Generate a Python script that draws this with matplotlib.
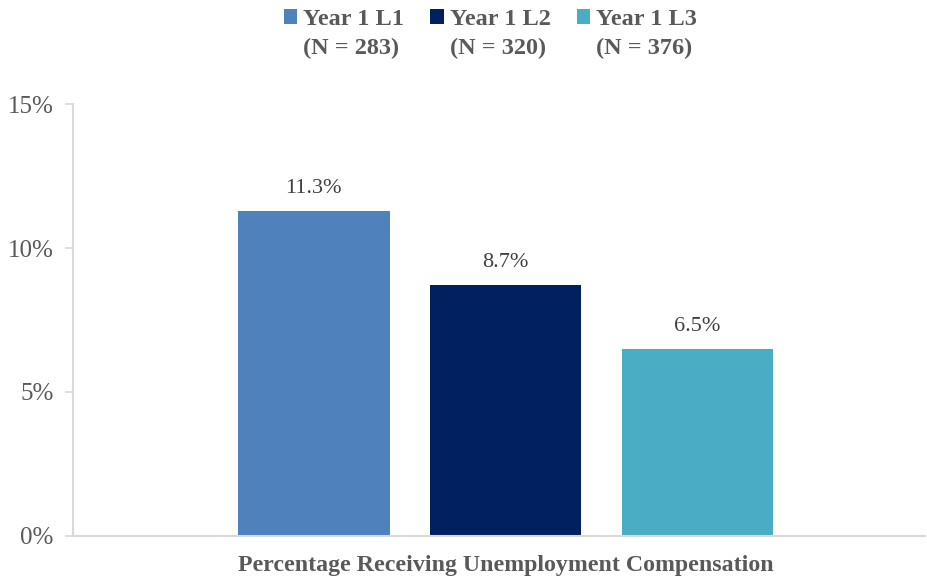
import matplotlib.pyplot as plt
import numpy as np
from matplotlib.patches import Rectangle

plt.rcParams['font.family'] = ['Liberation Serif', 'DejaVu Serif']

groups = ["Year 1 L1", "Year 1 L2", "Year 1 L3"]
group_n = ["(N = 283)", "(N = 320)", "(N = 376)"]
values = np.array([11.3, 8.7, 6.5])
value_labels = ["11.3%", "8.7%", "6.5%"]
category = "Percentage Receiving Unemployment Compensation"
colors = ["#4f81bd", "#002060", "#4bacc6"]
yticks = [0, 5, 10, 15]

fig = plt.figure(figsize=(9.27, 5.78), dpi=100)
ax = fig.add_axes([0.0787, 0.0727, 0.919, 0.7473])

x = np.array([-1, 0, 1]) + 0.035
bars = []
for i in range(3):
    b = ax.bar(x[i], values[i], width=0.79, color=colors[i], label=groups[i], zorder=2)
    bars.append(b)
    ax.text(x[i], values[i] + 0.45, value_labels[i], ha='center', va='bottom',
            fontsize=16, color='#404040')

ax.set_xlim(-2.22, 2.22)
ax.set_ylim(0, 15)
ax.set_yticks(yticks)
ax.set_yticklabels([f"{t}%" for t in yticks], fontsize=18, color='#595959')
ax.set_xticks([0.035])
ax.set_xticklabels([category], fontsize=17.2, fontweight='bold', color='#595959')
ax.tick_params(axis='x', length=0, pad=14)
ax.tick_params(axis='y', length=6, color='#d9d9d9', width=1.2, pad=8)

for s in ['top', 'right']:
    ax.spines[s].set_visible(False)
for s in ['left', 'bottom']:
    ax.spines[s].set_color('#d9d9d9')
    ax.spines[s].set_linewidth(1.5)

# legend: coloured square on the first row, N count on the second row
handles, labels = [], []
for i in range(3):
    handles.append(bars[i][0])
    labels.append(groups[i])
    handles.append(Rectangle((0, 0), 1, 1, visible=False))
    labels.append(group_n[i])

fig.legend(handles=handles, labels=labels, loc='upper center',
           bbox_to_anchor=(0.529, 1.022), ncol=3, frameon=False,
           prop={'size': 17.5, 'weight': 'bold'}, labelcolor='#595959',
           handlelength=0.55, handleheight=0.55, handletextpad=0.25,
           columnspacing=1.08, labelspacing=0.3)

fig.savefig('out.png', dpi=100)
